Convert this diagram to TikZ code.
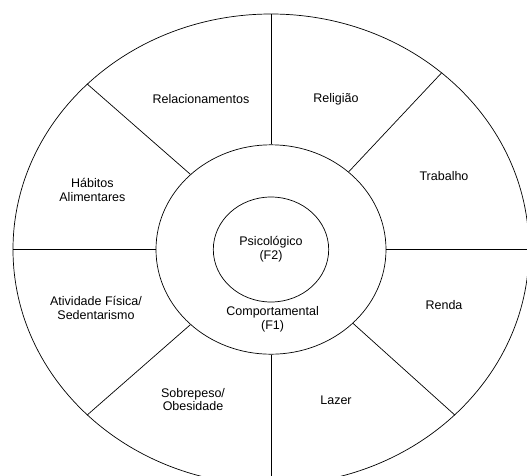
\documentclass[tikz,border=0pt]{standalone}
\usepackage{fontspec}
\setmainfont{Liberation Sans}
\usepackage{tikz}
\usetikzlibrary{shapes.geometric}
\tikzstyle{ring}=[draw, ellipse, inner sep=0pt, line width=.7pt]
\tikzstyle{factor}=[align=center, inner sep=0pt, font=\fontsize{12.5}{13.8}\selectfont]
\tikzstyle{spoke}=[line width=.7pt]

\begin{document}
\begin{tikzpicture}[x=1pt,y=1pt]
	\useasboundingbox (-271,-225.5) rectangle (256,249.5);
	\clip (-271,-225.5) rectangle (256,249.5);
	\node[ring, minimum width=516pt, minimum height=471pt] (out) at (0,0) {};
	\node[ring, minimum width=230pt, minimum height=209.4pt] (mid) at (0,0) {};
	\node[ring, factor, minimum width=115.4pt, minimum height=105pt] (psi) at (0,0) {Psicológico\\(F2)};
	\draw[spoke] (mid.90) -- (out.90);
	\draw[spoke] (mid.-90) -- (out.-90);
	\draw[spoke] (mid.0) -- (out.0);
	\draw[spoke] (mid.180) -- (out.180);
	\draw[spoke] (mid.137) -- (out.138);
	\draw[spoke] (mid.45) -- (out.46);
	\draw[spoke] (mid.-42) -- (out.-42);
	\draw[spoke] (mid.223) -- (out.222);
	\node[factor] (comp) at (1.6,-69.5) {Comportamental\\(F1)};
	\node[factor] (rel) at (-70,150.3) {Relacionamentos};
	\node[factor] (relig) at (65,150.3) {Religião};
	\node[factor] (trab) at (173,73) {Trabalho};
	\node[factor] (hab) at (-178.6,59.5) {Hábitos\\Alimentares};
	\node[factor] (ativ) at (-175,-58.5) {Atividade Física/\\Sedentarismo};
	\node[factor] (renda) at (173,-55.5) {Renda};
	\node[factor] (sobre) at (-78,-150) {Sobrepeso/\\Obesidade};
	\node[factor] (lazer) at (65,-150.5) {Lazer};
\end{tikzpicture}
\end{document}
